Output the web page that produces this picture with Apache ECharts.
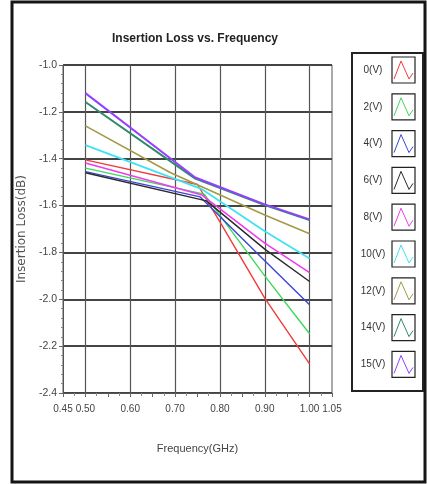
<!DOCTYPE html>
<html>
<head>
<meta charset="utf-8">
<script src="https://cdn.jsdelivr.net/npm/echarts@6/dist/echarts.min.js"></script>
<style>
  html, body { margin: 0; padding: 0; background: #fff; }
  #chart { width: 427px; height: 484px; }
</style>
</head>
<body>
<div id="chart"></div>
<script>
// ---- data ----
const seriesNames = ['0(V)', '2(V)', '4(V)', '6(V)', '8(V)', '10(V)', '12(V)', '14(V)', '15(V)'];
const s0V  = [[0.50, -1.405], [0.75, -1.51], [0.80, -1.67], [0.90, -1.995], [1.00, -2.276]];
const s2V  = [[0.50, -1.44], [0.765, -1.551], [0.90, -1.90], [1.00, -2.147]];
const s4V  = [[0.50, -1.455], [0.756, -1.563], [0.90, -1.836], [1.00, -2.023]];
const s6V  = [[0.50, -1.46], [0.77, -1.58], [0.90, -1.786], [1.00, -1.924]];
const s8V  = [[0.50, -1.418], [0.76, -1.555], [0.90, -1.76], [1.00, -1.886]];
const s10V = [[0.50, -1.342], [0.76, -1.53], [0.90, -1.71], [1.00, -1.826]];
const s12V = [[0.50, -1.26], [0.69, -1.46], [0.90, -1.64], [1.00, -1.72]];
const s14V = [[0.50, -1.158], [0.745, -1.485], [0.90, -1.598], [1.00, -1.662]];
const s15V = [[0.50, -1.12], [0.745, -1.48], [0.90, -1.595], [1.00, -1.659]];
const seriesData = [s0V, s2V, s4V, s6V, s8V, s10V, s12V, s14V, s15V];
const xTickLabels = ['0.45', '0.50', '0.60', '0.70', '0.80', '0.90', '1.00', '1.05'];
const yTickLabels = ['-1.0', '-1.2', '-1.4', '-1.6', '-1.8', '-2.0', '-2.2', '-2.4'];

// ---- styling ----
const colors = ['#f23b3b', '#3fd85a', '#3a46d8', '#2a2a2a', '#f03cf0', '#3fe3f0', '#a39a45', '#2f8a6c', '#9340ff'];
const widths = [1.4, 1.4, 1.4, 1.4, 1.6, 1.8, 1.6, 2, 2];
const font = "'Liberation Sans',sans-serif";

const chart = echarts.init(document.getElementById('chart'));

const series = seriesNames.map((n, i) => ({
  name: n,
  type: 'line',
  data: seriesData[i],
  showSymbol: false,
  symbol: 'none',
  lineStyle: { color: colors[i], width: widths[i] },
  itemStyle: { color: colors[i] },
  z: 3 + i
}));

// ---- legend drawn as graphic (box, labels, zig-zag swatches) ----
const legBoxX = 392, legBoxTop = 57, legBoxW = 23, legBoxH = 26, legStep = 36.8;
const graphics = [
  { type: 'rect', shape: { x: 12, y: 2, width: 413, height: 480 },
    style: { fill: 'none', stroke: '#151515', lineWidth: 3 }, z: 100, silent: true },
  { type: 'rect', shape: { x: 352, y: 53, width: 71, height: 338 },
    style: { fill: 'none', stroke: '#222', lineWidth: 2 }, z: 100, silent: true }
];
seriesNames.forEach((n, i) => {
  const y = legBoxTop + i * legStep;
  graphics.push({
    type: 'text', x: 373, y: y + legBoxH / 2, z: 100, silent: true,
    style: { text: n, fill: '#333', font: "10px 'Liberation Sans',sans-serif", align: 'center', verticalAlign: 'middle' }
  });
  graphics.push({
    type: 'rect', shape: { x: legBoxX, y: y, width: legBoxW, height: legBoxH },
    style: { fill: 'none', stroke: '#222', lineWidth: 1.2 }, z: 100, silent: true
  });
  graphics.push({
    type: 'polyline', z: 101, silent: true,
    shape: { points: [[legBoxX + 2, y + 22], [legBoxX + 9, y + 4], [legBoxX + 17, y + 22], [legBoxX + 21, y + 16]] },
    style: { fill: 'none', stroke: colors[i], lineWidth: 1 }
  });
});

const option = {
  animation: false,
  backgroundColor: '#fff',
  title: {
    text: 'Insertion Loss vs. Frequency',
    left: 190, top: 28, textAlign: 'center',
    textStyle: { fontFamily: font, fontSize: 12, fontWeight: 'bold', color: '#222' }
  },
  grid: {
    left: 63, right: 95, top: 65, bottom: 91,
    show: true, borderColor: '#555', borderWidth: 1, backgroundColor: 'transparent'
  },
  legend: { show: false, data: seriesNames },
  xAxis: {
    type: 'value', min: 0.45, max: 1.05, interval: 0.05,
    name: 'Frequency(GHz)', nameLocation: 'middle', nameGap: 50,
    nameTextStyle: { fontFamily: font, fontSize: 11, color: '#444' },
    axisLine: { show: true, onZero: false, lineStyle: { color: '#555', width: 1 } },
    axisTick: { show: true, length: 4, lineStyle: { color: '#666' } },
    minorTick: { show: true, splitNumber: 2, length: 3, lineStyle: { color: '#888' } },
    axisLabel: {
      margin: 11, fontFamily: font, fontSize: 10, color: '#444',
      formatter: v => { const s = v.toFixed(2); return xTickLabels.indexOf(s) >= 0 ? s : ''; }
    },
    splitLine: { show: true, lineStyle: { color: ['rgba(0,0,0,0)', '#555'], width: 1.2 } }
  },
  yAxis: {
    type: 'value', min: -2.4, max: -1.0, interval: 0.2,
    name: 'Insertion Loss(dB)', nameLocation: 'middle', nameGap: 34, nameRotate: 90,
    nameTextStyle: { fontFamily: 'DejaVu Sans', fontSize: 12, color: '#555' },
    axisLine: { show: true, lineStyle: { color: '#555', width: 1 } },
    axisTick: { show: true, length: 4, lineStyle: { color: '#666' } },
    minorTick: { show: true, splitNumber: 5, length: 2, lineStyle: { color: '#888' } },
    axisLabel: {
      margin: 6, fontFamily: font, fontSize: 10.5, color: '#444',
      formatter: v => { const s = v.toFixed(1); return yTickLabels.indexOf(s) >= 0 ? s : ''; }
    },
    splitLine: { show: true, lineStyle: { color: '#444', width: 2 } }
  },
  graphic: { elements: graphics },
  series: series
};

chart.setOption(option);
</script>
</body>
</html>
